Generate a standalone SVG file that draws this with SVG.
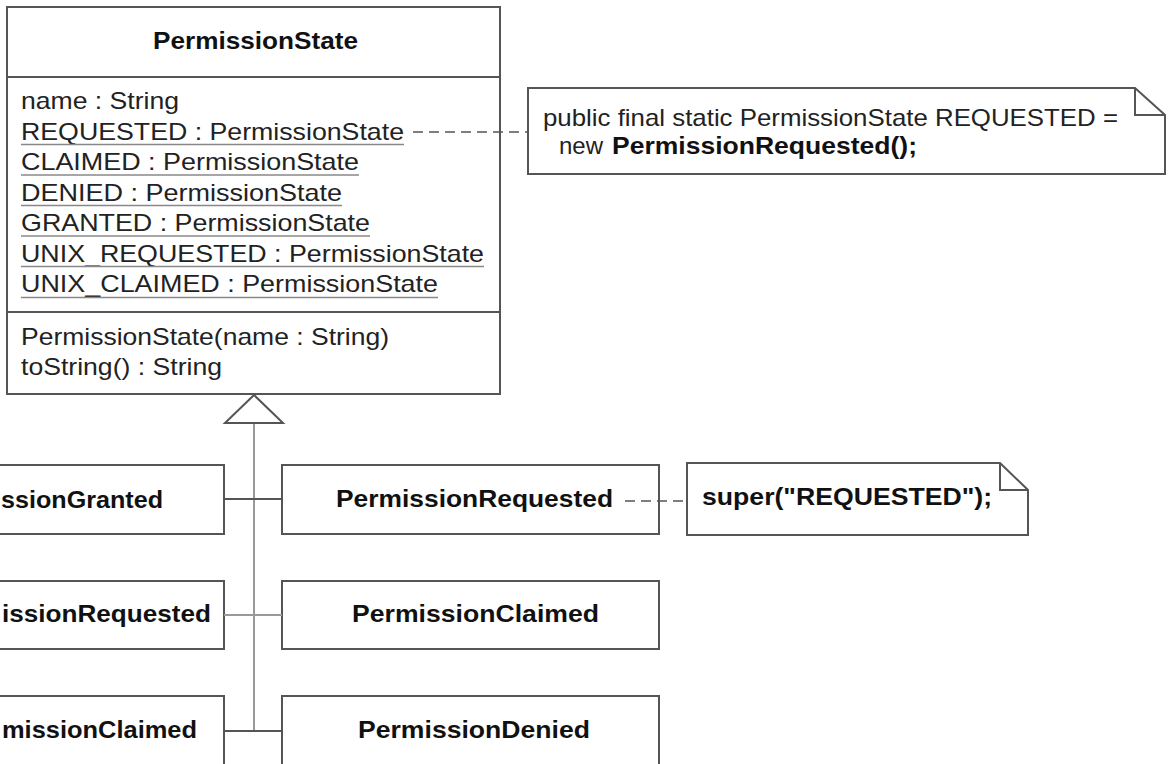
<svg xmlns="http://www.w3.org/2000/svg" width="1168" height="764" viewBox="0 0 1168 764">
<style>
.bx{fill:#fff;stroke:#555;stroke-width:2}
.ln{fill:none;stroke:#555;stroke-width:2}
.gl{fill:none;stroke:#999;stroke-width:2}
.ul{stroke:#888;stroke-width:1.6}
.dash{fill:none;stroke:#555;stroke-width:1.6;stroke-dasharray:10 6}
.t{font-family:"Liberation Sans",Arial,Helvetica,sans-serif;font-size:24px;fill:#222}
.b{font-family:"Liberation Sans",Arial,Helvetica,sans-serif;font-size:24px;font-weight:bold;fill:#111}
</style>
<rect width="1168" height="764" fill="#fff"/>
<g id="PermissionState">
  <rect class="bx" x="7" y="7" width="493" height="387"/>
  <line class="ln" x1="7" y1="77" x2="500" y2="77"/>
  <line class="ln" x1="7" y1="312" x2="500" y2="312"/>
  <text class="b" x="153" y="49" textLength="205" lengthAdjust="spacingAndGlyphs">PermissionState</text>
  <text class="t" x="21" y="109" textLength="158" lengthAdjust="spacingAndGlyphs">name : String</text>
  <text class="t" x="21" y="139.5" textLength="383" lengthAdjust="spacingAndGlyphs">REQUESTED : PermissionState</text>
  <line class="ul" x1="21" y1="144.5" x2="404" y2="144.5"/>
  <text class="t" x="21" y="170" textLength="338" lengthAdjust="spacingAndGlyphs">CLAIMED : PermissionState</text>
  <line class="ul" x1="21" y1="175" x2="359" y2="175"/>
  <text class="t" x="21" y="200.5" textLength="321" lengthAdjust="spacingAndGlyphs">DENIED : PermissionState</text>
  <line class="ul" x1="21" y1="205.5" x2="342" y2="205.5"/>
  <text class="t" x="21" y="231" textLength="349" lengthAdjust="spacingAndGlyphs">GRANTED : PermissionState</text>
  <line class="ul" x1="21" y1="236" x2="370" y2="236"/>
  <text class="t" x="21" y="261.5" textLength="463" lengthAdjust="spacingAndGlyphs">UNIX_REQUESTED : PermissionState</text>
  <line class="ul" x1="21" y1="266.5" x2="484" y2="266.5"/>
  <text class="t" x="21" y="292" textLength="417" lengthAdjust="spacingAndGlyphs">UNIX_CLAIMED : PermissionState</text>
  <line class="ul" x1="21" y1="297.5" x2="438" y2="297.5"/>
  <text class="t" x="21" y="345" textLength="368" lengthAdjust="spacingAndGlyphs">PermissionState(name : String)</text>
  <text class="t" x="21" y="375" textLength="201" lengthAdjust="spacingAndGlyphs">toString() : String</text>
</g>
<g id="note-requested">
  <path class="bx" d="M528,88 H1135 L1165,115 V174 H528 Z"/>
  <path class="ln" d="M1135,88 V115 H1165"/>
  <text class="t" x="543" y="126" textLength="575" lengthAdjust="spacingAndGlyphs">public final static PermissionState REQUESTED =</text>
  <text class="t" x="559" y="154">new <tspan class="b" x="612" textLength="305" lengthAdjust="spacingAndGlyphs">PermissionRequested();</tspan></text>
</g>
<g id="PermissionGranted-left">
  <path class="ln" d="M-5,465 H224 V534 H-5"/>
  <text class="b" x="1" y="508" textLength="162" lengthAdjust="spacingAndGlyphs">ssionGranted</text>
</g>
<g id="PermissionRequested-left">
  <path class="ln" d="M-5,581 H224 V649 H-5"/>
  <text class="b" x="2" y="622" textLength="209" lengthAdjust="spacingAndGlyphs">issionRequested</text>
</g>
<g id="PermissionClaimed-left">
  <path class="ln" d="M-5,696 H224 V770"/>
  <text class="b" x="2" y="738" textLength="195" lengthAdjust="spacingAndGlyphs">missionClaimed</text>
</g>
<g id="PermissionRequested">
  <rect class="bx" x="282" y="465" width="377" height="69"/>
  <text class="b" x="336" y="507" textLength="277" lengthAdjust="spacingAndGlyphs">PermissionRequested</text>
</g>
<g id="PermissionClaimed">
  <rect class="bx" x="282" y="581" width="377" height="68"/>
  <text class="b" x="352" y="622" textLength="247" lengthAdjust="spacingAndGlyphs">PermissionClaimed</text>
</g>
<g id="PermissionDenied">
  <path class="ln" d="M282,770 V696 H659 V770"/>
  <text class="b" x="358" y="738" textLength="232" lengthAdjust="spacingAndGlyphs">PermissionDenied</text>
</g>
<g id="note-super">
  <path class="bx" d="M687,463 H1000 L1028,490 V535 H687 Z"/>
  <path class="ln" d="M1000,463 V490 H1028"/>
  <text class="b" x="702" y="505" textLength="290" lengthAdjust="spacingAndGlyphs">super("REQUESTED");</text>
</g>
<g id="connectors">
  <line class="dash" x1="413" y1="132" x2="528" y2="132"/>
  <line class="dash" x1="625" y1="501" x2="687" y2="501"/>
  <line class="gl" x1="254" y1="423" x2="254" y2="731"/>
  <polygon points="254,395 225,423 283,423" fill="#fff" stroke="#555" stroke-width="2"/>
  <line class="ln" x1="224" y1="499" x2="282" y2="499"/>
  <line class="gl" x1="224" y1="615" x2="282" y2="615"/>
  <line class="ln" x1="224" y1="731" x2="282" y2="731"/>
</g>
</svg>
